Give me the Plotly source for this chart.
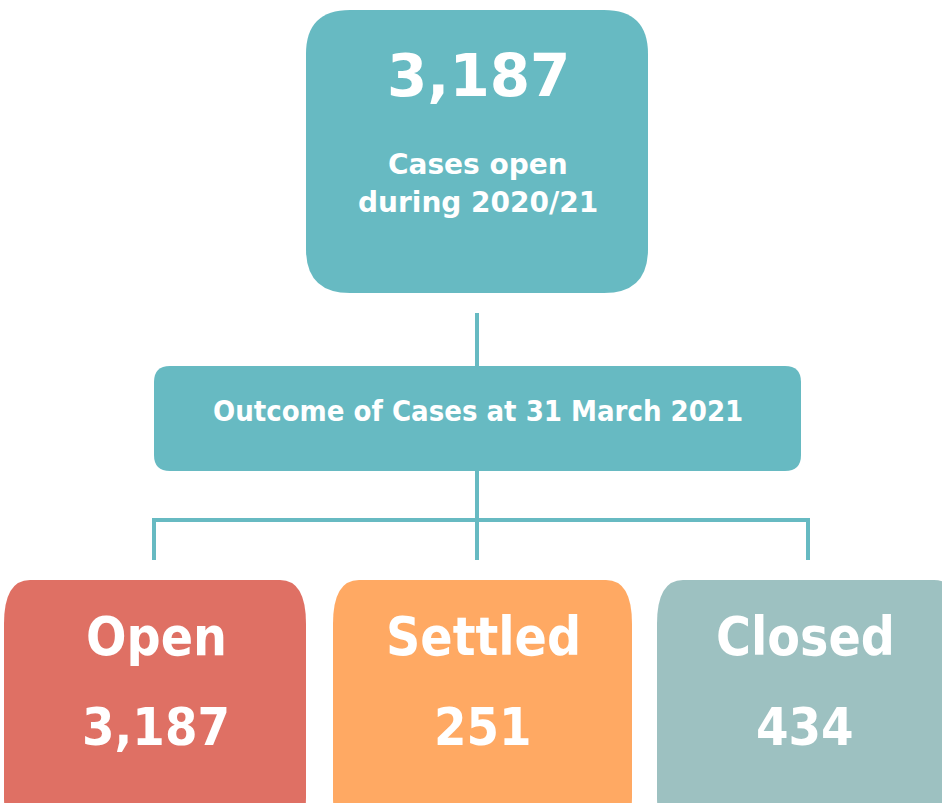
import plotly.graph_objects as go

# ---- data ----
total_cases = 3187
total_label = ["Cases open", "during 2020/21"]
outcome_title = "Outcome of Cases at 31 March 2021"
categories = ["Open", "Settled", "Closed"]
values = [3187, 251, 434]
box_colors = ["#DF7064", "#FFA963", "#9DC1C1"]
teal = "#67BAC2"

W, H = 942, 803
fig = go.Figure()


def rrect(x0, y0, x1, y1, rx, ry):
    return (f"M {x0+rx},{y0} L {x1-rx},{y0} Q {x1},{y0} {x1},{y0+ry} "
            f"L {x1},{y1-ry} Q {x1},{y1} {x1-rx},{y1} L {x0+rx},{y1} "
            f"Q {x0},{y1} {x0},{y1-ry} L {x0},{y0+ry} Q {x0},{y0} {x0+rx},{y0} Z")


shapes = []
shapes.append(dict(type="path", path=rrect(306, 10, 648, 293, 44, 44),
                   fillcolor=teal, line=dict(width=0), xref="x", yref="y"))
shapes.append(dict(type="path", path=rrect(154, 366, 801, 471, 16, 16),
                   fillcolor=teal, line=dict(width=0), xref="x", yref="y"))
line = dict(color=teal, width=4)
shapes.append(dict(type="line", x0=477, x1=477, y0=313, y1=366, line=line, xref="x", yref="y"))
shapes.append(dict(type="line", x0=477, x1=477, y0=471, y1=560, line=line, xref="x", yref="y"))
shapes.append(dict(type="line", x0=152, x1=810, y0=520, y1=520, line=line, xref="x", yref="y"))
for xv in [154, 808]:
    shapes.append(dict(type="line", x0=xv, x1=xv, y0=520, y1=560, line=line, xref="x", yref="y"))

bx = [(4, 306), (333, 632), (657, 960)]
for (x0, x1), c in zip(bx, box_colors):
    shapes.append(dict(type="path", path=rrect(x0, 580, x1, 840, 26, 44),
                       fillcolor=c, line=dict(width=0), xref="x", yref="y"))

ann = []
fam_big = "DejaVu Sans"
fam_cond = "DejaVu Sans Condensed, DejaVu Sans"
ann.append(dict(x=478, y=76, text=f"<b>{total_cases:,}</b>", showarrow=False,
                font=dict(family=fam_big, size=58, color="white")))
for yv, t in zip([164, 202], total_label):
    ann.append(dict(x=478, y=yv, text=f"<b>{t}</b>", showarrow=False,
                    font=dict(family=fam_big, size=28, color="white")))
ann.append(dict(x=478, y=411, text=f"<b>{outcome_title}</b>", showarrow=False,
                font=dict(family=fam_cond, size=29, color="white")))
centers = [156, 483, 805]
for cx, cat, v in zip(centers, categories, values):
    ann.append(dict(x=cx, y=636, text=f"<b>{cat}</b>", showarrow=False,
                    font=dict(family=fam_cond, size=53, color="white")))
    ann.append(dict(x=cx, y=727, text=f"<b>{v:,}</b>", showarrow=False,
                    font=dict(family=fam_cond, size=52, color="white")))

fig.update_layout(
    width=W, height=H, margin=dict(l=0, r=0, t=0, b=0),
    paper_bgcolor="white", plot_bgcolor="white",
    xaxis=dict(range=[0, W], visible=False, fixedrange=True),
    yaxis=dict(range=[H, 0], visible=False, fixedrange=True),
    shapes=shapes, annotations=ann, showlegend=False,
)
fig.write_html("out.html", config={"displayModeBar": False},
               post_script="document.body.style.margin='0';document.body.style.overflow='hidden';")
